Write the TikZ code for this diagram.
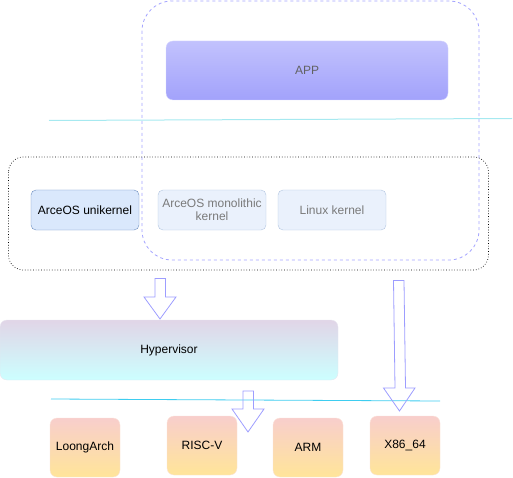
\documentclass[tikz,border=0pt]{standalone}
\usepackage{fontspec}
\setmainfont{Liberation Sans}
\definecolor{dashblue}{HTML}{A3A3FF}
\definecolor{apptop}{HTML}{C2C2FD}
\definecolor{appbot}{HTML}{A2A2FB}
\definecolor{appline}{HTML}{D4D4FF}
\definecolor{cyanone}{HTML}{A6E9F0}
\definecolor{cyantwo}{HTML}{3ECDF0}
\definecolor{unifill}{HTML}{DAE8FC}
\definecolor{unistroke}{HTML}{6C8EBF}
\definecolor{fadefill}{HTML}{EAF1FC}
\definecolor{fadestroke}{HTML}{B2C5E0}
\definecolor{fadetext}{HTML}{7A7A7A}
\definecolor{hyptop}{HTML}{E1D5E7}
\definecolor{hypbot}{HTML}{CCFFFF}
\definecolor{hypline}{HTML}{E8E6F0}
\definecolor{archtop}{HTML}{F8CECC}
\definecolor{archbot}{HTML}{FFE599}
\definecolor{archline}{HTML}{FBE3DA}
\definecolor{arrowc}{HTML}{9D9DFF}
\begin{document}
\begin{tikzpicture}[x=1pt,y=-1pt,
  font=\fontsize{12}{14}\selectfont,
  every node/.style={inner sep=0pt, outer sep=0pt},
  kbox/.style={draw, rounded corners=5pt, minimum width=108pt, minimum height=40pt, align=center},
  unibox/.style={kbox, fill=unifill, draw=unistroke, text=black},
  fadebox/.style={kbox, fill=fadefill, draw=fadestroke, text=fadetext},
  archbox/.style={draw=archline, rounded corners=7pt, top color=archtop, bottom color=archbot, minimum width=70pt, minimum height=59pt},
  blockarrow/.style={draw=arrowc, line width=0.8pt, line join=miter}
]
\useasboundingbox (0,0) rectangle (513,478);

% outer dashed container
\draw[dashblue, dash pattern=on 3pt off 3pt, line width=0.8pt, rounded corners=30pt]
  (142,1) rectangle (479,260);

% APP
\node[draw=appline, rounded corners=7pt, top color=apptop, bottom color=appbot,
  minimum width=282pt, minimum height=59pt, text=fadetext!80!black] (app) at (307,70.5) {APP};

% cyan line 1
\coordinate (c1a) at (49,120.5);
\coordinate (c1b) at (512,118.5);
\draw[cyanone, line width=1pt] (c1a) -- (c1b);

% dotted kernel container
\draw[black, dotted, line width=0.7pt, rounded corners=15pt] (8.5,157) rectangle (488.5,270);

% kernels
\node[unibox] (uni) at (85,210) {ArceOS unikernel};
\node[fadebox] (mono) at (212,210) {ArceOS monolithic\\[-1pt]kernel};
\node[fadebox] (linux) at (332,210) {Linux kernel};

% hypervisor
\node[draw=hypline, rounded corners=7pt, top color=hyptop, bottom color=hypbot,
  minimum width=338pt, minimum height=60pt] (hyp) at (169,350) {Hypervisor};

% cyan line 2
\coordinate (c2a) at (51,399);
\coordinate (c2b) at (440,401);
\draw[cyantwo, line width=0.8pt] (c2a) -- (c2b);

% arch boxes
\node[archbox] (loong) at (85,447.5) {LoongArch};
\node[archbox] (riscv) at (202,445.5) {RISC-V};
\node[archbox] (arm) at (308,447.5) {ARM};
\node[archbox] (x86) at (405,445.5) {X86\_64};

% block arrows
\draw[blockarrow] (155,278.5) -- (165.5,278.5) -- (165.5,297) -- (176,297) -- (160,319) -- (144,297) -- (155,297) -- cycle;
\draw[blockarrow] (393.5,280.5) -- (404,280.5) -- (405.5,388) -- (415,388) -- (399.5,411) -- (383.5,388) -- (395,388) -- cycle;
\draw[blockarrow] (243,391) -- (253.5,391) -- (253.5,409) -- (264,409) -- (248,432) -- (232,409) -- (243,409) -- cycle;
\end{tikzpicture}
\end{document}
